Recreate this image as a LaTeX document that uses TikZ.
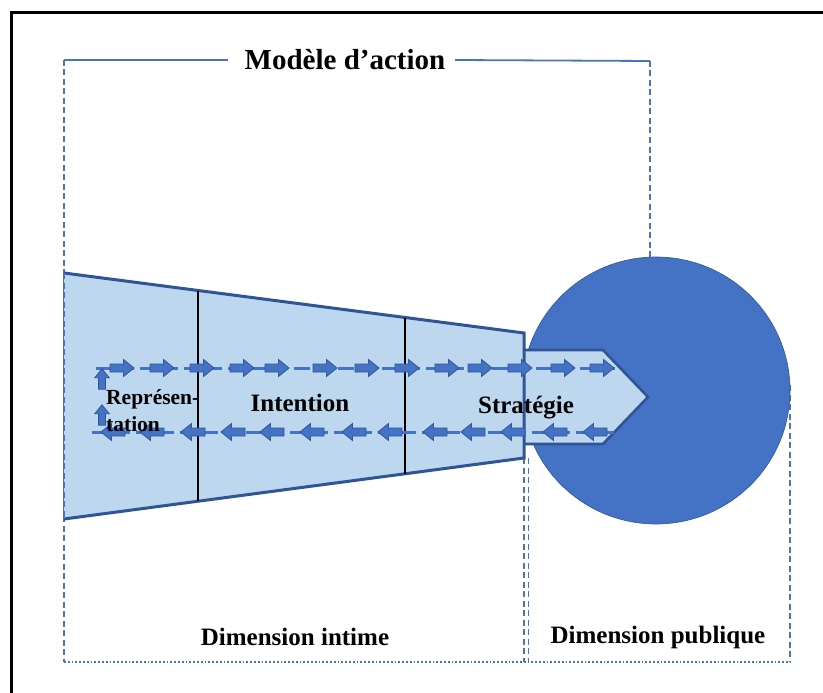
\documentclass[tikz,border=0pt]{standalone}
\usepackage{fontspec}
\setmainfont{Liberation Serif}
\definecolor{lightfill}{HTML}{BDD7EE}
\definecolor{dkblue}{HTML}{4472C4}
\definecolor{edgeblue}{HTML}{2F5597}
\definecolor{dashblue}{HTML}{4A72C0}
\tikzset{
  arrowicon/.style={fill=dkblue, draw=edgeblue, line width=0.8pt},
  rarr/.pic={\path[arrowicon] (-12,-4) -- (1.5,-4) -- (1.5,-8.5) -- (12,0) -- (1.5,8.5) -- (1.5,4) -- (-12,4) -- cycle;},
  flowline/.style={draw=dkblue, line width=3pt, dash pattern=on 16pt off 6pt},
  framedash/.style={draw=dashblue, line width=2pt, dash pattern=on 6pt off 3.5pt},
  framedot/.style={draw=dashblue, line width=2pt, dash pattern=on 1.8pt off 2pt},
  framesolid/.style={draw=dashblue, line width=1.8pt},
  lbl/.style={font=\bfseries\fontsize{25}{28}\selectfont, inner sep=0pt}
}
\begin{document}
\begin{tikzpicture}[x=1pt,y=-1pt]
\useasboundingbox (0,0) rectangle (823,693);
\fill[white] (0,0) rectangle (823,693);
% outer black frame (right and bottom sides lie outside the picture)
\draw[black, line width=3pt] (11,13) rectangle (850,720);

% frame of the model
\draw[framesolid] (64,60) -- (228,60);
\draw[framesolid] (455,60) -- (650,61);
\draw[framedash] (64,60) -- (64,662);
\draw[framedash] (650,61) -- (650,257);
\draw[framedash] (790,385) -- (790,662);
\draw[framedot] (64,662) -- (790,662);
\draw[framedash, line width=1.3pt] (524,458) -- (524,662);
\draw[framedash, line width=1.3pt] (528.5,458) -- (528.5,662);

% circle (public dimension)
\fill[dkblue] (656,390.5) ellipse [x radius=134, y radius=133.5];
\draw[edgeblue, line width=0.6pt] (656,390.5) ellipse [x radius=134, y radius=133.5];

% pentagon (strategy into public)
\filldraw[fill=lightfill, draw=edgeblue, line width=2.6pt, line join=miter]
  (524,350) -- (603,350) -- (648,397) -- (603,444) -- (524,444);

% trapezoid (intimate dimension)
\fill[lightfill] (64,273) -- (524,333) -- (524,458) -- (64,519) -- cycle;
\draw[edgeblue, line width=3pt] (64,273) -- (524,333) -- (524,458) -- (64,519);
\draw[framedash] (64,273) -- (64,519);

% separators
\draw[black, line width=1.4pt] (198,290.5) -- (198,501);
\draw[black, line width=1.4pt] (405,317.5) -- (405,474);

% flow lines
\draw[flowline] (96,368) -- (615,368);
\draw[flowline] (92,432) -- (615,432);
\foreach \x in {122,162,202,242,277,325,367,407,447,480,520,563,602}
  \pic at (\x,368) {rarr};
\foreach \x in {113,152,193,233,272,312,354,390,435,473,513,555,595}
  \pic[rotate=180] at (\x,432) {rarr};
\pic[rotate=90, scale=0.85] at (102,379) {rarr};
\pic[rotate=90, scale=0.85] at (102,415) {rarr};

% labels
\node[font=\bfseries\fontsize{29}{32}\selectfont, inner sep=0pt] (title) at (345,60) {Modèle d’action};
\node[font=\bfseries\fontsize{21.5}{26}\selectfont, inner sep=0pt, anchor=west] (rep1) at (106,399) {Représen-};
\node[font=\bfseries\fontsize{21.5}{26}\selectfont, inner sep=0pt, anchor=west] (rep2) at (106,424) {tation};
\node[lbl] (intention) at (300,403) {Intention};
\node[lbl] (strategie) at (526,408) {Stratégie};
\node[lbl] (intime) at (295,637) {Dimension intime};
\node[lbl] (publique) at (658,637) {Dimension publique};
\end{tikzpicture}
\end{document}
